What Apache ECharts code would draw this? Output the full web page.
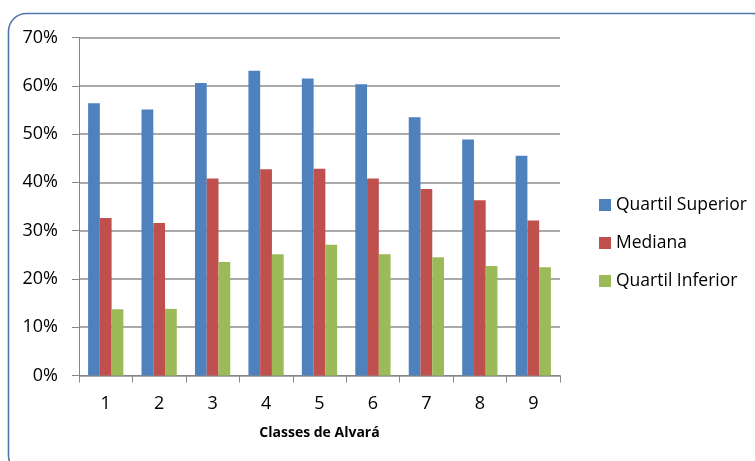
<!DOCTYPE html>
<html>
<head>
<meta charset="utf-8">
<script src="https://cdn.jsdelivr.net/npm/echarts@6/dist/echarts.min.js"></script>
<style>
  html, body { margin: 0; padding: 0; background: #ffffff; }
  #chart { width: 755px; height: 461px; }
</style>
</head>
<body>
<div id="chart"></div>
<script>
// Alvará classes on the horizontal axis
const categories = ['1', '2', '3', '4', '5', '6', '7', '8', '9'];

// Percentages per class
const quartilSuperior = [56.4, 55.1, 60.6, 63.1, 61.5, 60.3, 53.5, 48.9, 45.5];
const mediana         = [32.6, 31.6, 40.8, 42.7, 42.8, 40.8, 38.6, 36.3, 32.1];
const quartilInferior = [13.7, 13.8, 23.5, 25.1, 27.1, 25.1, 24.5, 22.7, 22.4];

const seriesNames = ['Quartil Superior', 'Mediana', 'Quartil Inferior'];
const seriesColors = ['#4f81bd', '#c0504d', '#9bbb59'];

const axisMin = 0, axisMax = 70, axisStep = 10;

const font = '"Open Sans", sans-serif';
const chart = echarts.init(document.getElementById('chart'), null, { renderer: 'canvas' });

const makeBar = (name, data, color) => ({
  name,
  type: 'bar',
  data,
  barGap: '0%',
  barCategoryGap: '34%',
  itemStyle: { color },
  emphasis: { disabled: true }
});

chart.setOption({
  animation: false,
  backgroundColor: '#ffffff',
  graphic: [{
    type: 'rect',
    shape: { x: 8.5, y: 13.5, width: 762, height: 460, r: 18 },
    style: { fill: 'none', stroke: '#4f76aa', lineWidth: 1.6 },
    silent: true,
    z: -1
  }],
  grid: { left: 79, right: 195, top: 37.5, bottom: 85.5, containLabel: false },
  legend: {
    orient: 'vertical',
    left: 594,
    top: 190,
    itemWidth: 12,
    itemHeight: 12,
    itemGap: 18,
    icon: 'rect',
    textStyle: { fontFamily: font, fontSize: 17.5, color: '#000000', lineHeight: 20, padding: [0, 0, 0, 0] },
    data: seriesNames
  },
  xAxis: {
    type: 'category',
    data: categories,
    name: 'Classes de Alvará',
    nameLocation: 'middle',
    nameGap: 51,
    nameTextStyle: { fontFamily: font, fontSize: 14, fontWeight: 'bold', color: '#000000' },
    axisLine: { lineStyle: { color: '#868686', width: 1 } },
    axisTick: { show: true, length: 7, lineStyle: { color: '#868686' } },
    axisLabel: { fontFamily: font, fontSize: 18, color: '#000000', margin: 19 },
    splitLine: { show: false }
  },
  yAxis: {
    type: 'value',
    min: axisMin,
    max: axisMax,
    interval: axisStep,
    axisLine: { show: true, lineStyle: { color: '#868686', width: 1 } },
    axisTick: { show: true, length: 7, lineStyle: { color: '#868686' } },
    axisLabel: { fontFamily: font, fontSize: 18, color: '#000000', margin: 21, formatter: '{value}%' },
    splitLine: { show: true, lineStyle: { color: '#8c8c8c', width: 1.5 } }
  },
  series: [
    makeBar(seriesNames[0], quartilSuperior, seriesColors[0]),
    makeBar(seriesNames[1], mediana, seriesColors[1]),
    makeBar(seriesNames[2], quartilInferior, seriesColors[2])
  ]
});
</script>
</body>
</html>
